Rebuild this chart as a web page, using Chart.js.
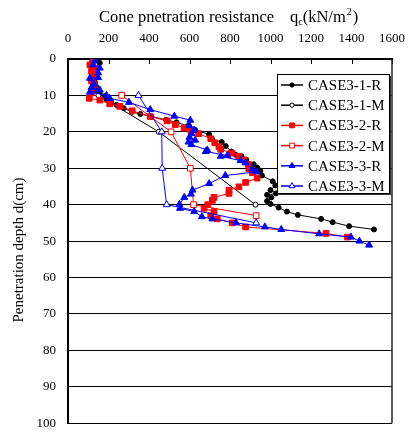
<!DOCTYPE html>
<html>
<head>
<meta charset="utf-8">
<script src="https://cdn.jsdelivr.net/npm/chart.js@4/dist/chart.umd.min.js"></script>
<style>
  html, body { margin: 0; padding: 0; background: #fff; }
  #wrap { width: 418px; height: 443px; position: relative; }
</style>
</head>
<body>
<div id="wrap"><canvas id="cpt"></canvas></div>
<script>
// x ticks (resistance) and y ticks (depth)
const xTicks = [0, 200, 400, 600, 800, 1000, 1200, 1400, 1600];
const yTicks = [0, 10, 20, 30, 40, 50, 60, 70, 80, 90, 100];

const seriesNames = ['CASE3-1-R', 'CASE3-1-M', 'CASE3-2-R', 'CASE3-2-M', 'CASE3-3-R', 'CASE3-3-M'];

// CASE3-1-R
const depth1R = [0.5,1.1,2.5,3.8,5.1,6.4,7.8,8.6,9.5,10.2,11.1,11.9,12.6,13.5,14.5,15.1,15.8,16.7,17.4,18.4,19.5,20.7,22.1,22.8,23.9,25.4,26.3,26.7,27.6,28.9,29.8,30.7,32.0,33.6,34.7,36.0,36.9,37.3,38.0,39.0,39.8,40.8,41.9,42.8,43.9,44.8,45.9,46.8];
const qc1R    = [149,157,137,132,141,132,144,141,157,181,190,214,240,275,317,357,412,484,536,592,628,697,713,759,779,806,828,857,880,917,934,950,958,1011,1024,1000,1027,983,1004,983,1000,1040,1081,1135,1250,1307,1388,1511];
// CASE3-1-M
const depth1M = [10, 20, 40];
const qc1M    = [150, 448, 926];
// CASE3-2-R
const depth2R = [0.5,1.6,2.5,3.4,4.2,5.1,6.0,7.0,7.8,9.3,10.8,11.3,12.3,13.0,14.2,15.8,17.0,18.0,19.0,19.7,20.5,21.9,23.0,24.0,24.8,25.8,26.7,27.8,28.9,30.1,31.2,32.7,33.9,35.1,36.0,36.9,38.0,38.8,40.0,41.0,41.9,43.0,43.9,45.0,46.1,47.9,48.9];
const qc2R    = [121,108,132,116,132,124,116,132,124,116,105,157,206,255,317,406,490,530,573,607,645,705,725,745,754,808,844,870,890,893,910,934,877,844,795,795,721,713,690,672,721,705,737,811,877,1274,1380];
// CASE3-2-M
const depth2M = [10, 20, 30, 40, 43];
const qc2M    = [265, 509, 604, 620, 929];
// CASE3-3-R
const depth3R = [0.5,1.6,2.5,3.8,5.1,5.3,6.9,7.8,8.5,9.1,10.0,10.8,11.9,13.9,15.7,16.8,18.3,19.5,20.5,21.5,22.3,22.8,23.5,25.0,25.4,26.5,26.7,27.9,28.5,30.2,31.0,32.0,34.2,36.0,37.1,38.0,39.9,41.0,41.9,43.3,43.9,45.0,46.1,46.8,48.0,48.9,50.0,51.1];
const qc3R    = [132,124,157,149,149,108,128,116,157,108,190,206,301,406,525,604,599,623,610,600,628,595,609,688,680,787,754,852,877,909,930,777,697,615,607,574,550,553,623,661,713,830,972,1053,1240,1397,1439,1487];
// CASE3-3-M
const depth3M = [10, 20, 30, 40, 45];
const qc3M    = [348, 463, 465, 487, 929];

const SERIF = '"Liberation Serif", "Times New Roman", serif';

function pts(qc, depth) {
    return qc.map((v, i) => ({ x: v, y: depth[i] }));
}

function makeSet(i, qc, depth, color, style, open, radius) {
    return {
        label: seriesNames[i],
        data: pts(qc, depth),
        showLine: true,
        borderColor: color,
        borderWidth: 1,
        pointStyle: style,
        pointRadius: radius,
        pointBorderWidth: 1,
        pointBorderColor: color,
        pointBackgroundColor: open ? '#fff' : color,
        order: 5 - i
    };
}

const datasets = [
    makeSet(0, qc1R, depth1R, '#000', 'circle', false, 2.5),
    makeSet(1, qc1M, depth1M, '#000', 'circle', true, 2.5),
    makeSet(2, qc2R, depth2R, '#ff0000', 'rect', false, 4),
    makeSet(3, qc2M, depth2M, '#ff0000', 'rect', true, 4),
    makeSet(4, qc3R, depth3R, '#0000ff', 'triangle', false, 4),
    makeSet(5, qc3M, depth3M, '#0000ff', 'triangle', true, 4)
];

// titles, inner ticks, right border and the boxed legend
const decor = {
    id: 'decor',
    afterDraw(chart) {
        const ctx = chart.ctx;
        const a = chart.chartArea;
        const xs = chart.scales.x;
        ctx.save();

        // short ticks pointing into the plot from the top axis
        ctx.strokeStyle = '#000';
        ctx.lineWidth = 1;
        xTicks.forEach(t => {
            const px = Math.round(xs.getPixelForValue(t)) + 0.5;
            ctx.beginPath();
            ctx.moveTo(px, a.top);
            ctx.lineTo(px, a.top + 5);
            ctx.stroke();
        });

        // right frame line
        ctx.strokeStyle = '#222';
        ctx.lineWidth = 1.5;
        ctx.beginPath();
        ctx.moveTo(a.right, a.top);
        ctx.lineTo(a.right, a.bottom);
        ctx.stroke();

        // x axis title with subscript / superscript
        ctx.fillStyle = '#000';
        ctx.textBaseline = 'alphabetic';
        ctx.textAlign = 'left';
        ctx.font = '16.5px ' + SERIF;
        ctx.fillText('Cone pnetration resistance', 99, 22);
        let x = 290;
        ctx.fillText('q', x, 22);
        x += ctx.measureText('q').width;
        ctx.font = '10px ' + SERIF;
        ctx.fillText('c', x, 25);
        x += ctx.measureText('c').width;
        ctx.font = '16.5px ' + SERIF;
        ctx.fillText('(kN/m', x, 22);
        x += ctx.measureText('(kN/m').width;
        ctx.font = '10px ' + SERIF;
        ctx.fillText('2', x + 1, 15);
        x += ctx.measureText('2').width + 2;
        ctx.font = '16.5px ' + SERIF;
        ctx.fillText(')', x, 22);

        // y axis title
        ctx.save();
        ctx.translate(19, 250);
        ctx.rotate(-Math.PI / 2);
        ctx.textAlign = 'center';
        ctx.textBaseline = 'middle';
        ctx.font = '15px ' + SERIF;
        ctx.fillText('Penetration depth d(cm)', 0, 0);
        ctx.restore();

        // legend box
        const bx = 277, by = 74, bw = 112, bh = 119;
        ctx.fillStyle = '#333';
        ctx.fillRect(bx + 2, by + 2, bw, bh);
        ctx.fillStyle = '#fff';
        ctx.fillRect(bx, by, bw, bh);
        ctx.strokeStyle = '#000';
        ctx.lineWidth = 1;
        ctx.strokeRect(bx + 0.5, by + 0.5, bw, bh);

        chart.data.datasets.forEach((ds, i) => {
            const cy = by + 11 + i * 20.2;
            ctx.strokeStyle = ds.borderColor;
            ctx.lineWidth = 1.5;
            ctx.beginPath();
            ctx.moveTo(281, cy);
            ctx.lineTo(303, cy);
            ctx.stroke();
            ctx.fillStyle = ds.pointBackgroundColor;
            ctx.strokeStyle = ds.pointBorderColor;
            ctx.lineWidth = 1;
            Chart.helpers.drawPoint(ctx, {
                pointStyle: ds.pointStyle,
                radius: ds.pointRadius * 0.85,
                borderWidth: 1,
                rotation: 0
            }, 292, cy);
            ctx.fillStyle = '#000';
            ctx.font = '15px ' + SERIF;
            ctx.textAlign = 'left';
            ctx.textBaseline = 'middle';
            ctx.fillText(ds.label, 308, cy + 1);
        });

        ctx.restore();
    }
};

new Chart(document.getElementById('cpt'), {
    type: 'scatter',
    data: { datasets: datasets },
    plugins: [decor],
    options: {
        responsive: true,
        maintainAspectRatio: false,
        animation: false,
        layout: { padding: { left: 0, top: 0, right: 23, bottom: 5 } },
        plugins: { legend: { display: false }, tooltip: { enabled: false } },
        scales: {
            x: {
                type: 'linear',
                position: 'top',
                min: 0, max: 1600,
                afterFit: s => { s.height = 59; },
                afterBuildTicks: s => { s.ticks = xTicks.map(v => ({ value: v })); },
                grid: { display: true, drawOnChartArea: false, drawTicks: false },
                border: { display: true, color: '#000', width: 1.5 },
                ticks: {
                    color: '#000', padding: 13, maxRotation: 0,
                    font: { family: SERIF, size: 13 },
                    callback: v => String(v)
                }
            },
            y: {
                type: 'linear',
                reverse: true,
                min: 0, max: 100,
                afterFit: s => { s.width = 68; },
                afterBuildTicks: s => { s.ticks = yTicks.map(v => ({ value: v })); },
                grid: { color: '#000', lineWidth: 1, drawTicks: false },
                border: { display: true, color: '#000', width: 2 },
                ticks: {
                    color: '#000', padding: 12,
                    font: { family: SERIF, size: 13 },
                    callback: v => String(v)
                }
            }
        }
    }
});
</script>
</body>
</html>
